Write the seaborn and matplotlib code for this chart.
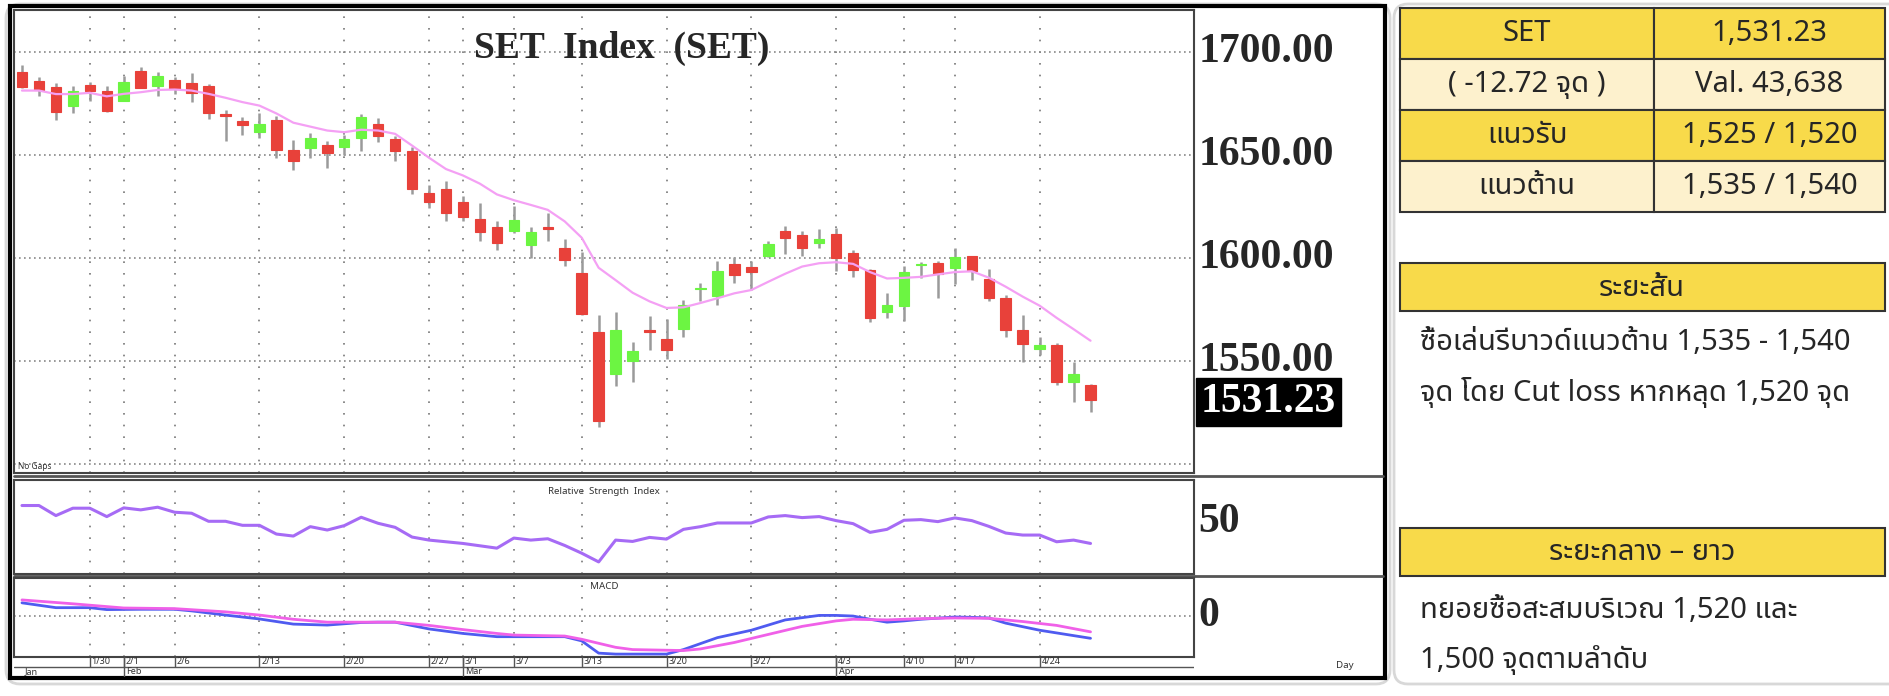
import matplotlib
matplotlib.use("Agg")
import matplotlib.pyplot as plt
import matplotlib.transforms as mtrans
from matplotlib.patches import Rectangle, FancyBboxPatch
import seaborn as sns
import pandas as pd
import numpy as np

sns.set_theme(style="white")
plt.rcParams['font.family'] = ['Noto Sans Thai', 'Noto Sans', 'DejaVu Sans']

# ---------------- data ----------------
opens  = [1690.6,1685.9,1682.9,1673.8,1684.0,1681.3,1676.4,1690.8,1683.7,1686.7,1685.1,1683.5,1669.8,1666.7,1661.1,1667.1,
          1652.4,1653.7,1654.8,1654.1,1658.4,1665.1,1658.1,1651.9,1631.9,1633.5,1627.3,1619.2,1615.3,1613.2,1606.3,1615.2,
          1605.2,1592.9,1564.0,1544.0,1550.0,1565.2,1560.8,1565.9,1585.0,1581.8,1597.1,1596.0,1601.3,1613.2,1611.3,1607.6,
          1611.6,1602.5,1594.1,1573.8,1577.0,1596.8,1597.6,1595.4,1601.0,1589.8,1580.5,1565.2,1556.0,1557.9,1540.0,1538.5]
closes = [1683.0,1681.7,1671.0,1681.1,1681.0,1671.3,1685.7,1682.5,1688.4,1682.1,1680.2,1670.3,1669.2,1664.5,1665.1,1652.5,
          1647.3,1658.4,1651.3,1657.8,1668.4,1659.5,1652.2,1633.8,1627.2,1622.2,1619.9,1612.7,1607.2,1618.4,1612.7,1614.0,
          1599.4,1573.0,1521.0,1565.0,1555.0,1564.0,1555.3,1577.5,1585.5,1593.7,1591.7,1593.3,1607.1,1610.0,1605.2,1609.2,
          1600.0,1594.1,1571.1,1577.1,1593.3,1597.2,1592.2,1600.5,1593.7,1580.6,1565.1,1558.4,1557.9,1540.0,1543.95,1531.23]
highs  = [1693.8,1687.8,1684.9,1683.8,1685.4,1683.8,1688.3,1693.0,1690.5,1687.8,1689.7,1684.6,1671.9,1668.7,1670.3,1669.1,
          1657.6,1660.8,1656.8,1660.0,1670.0,1668.0,1659.2,1654.1,1635.4,1637.3,1630.3,1626.7,1617.9,1625.4,1615.4,1622.2,
          1609.2,1602.9,1572.7,1573.8,1559.2,1571.9,1570.3,1579.8,1588.1,1598.9,1600.5,1598.9,1608.4,1615.6,1613.2,1614.3,
          1614.8,1604.0,1594.9,1583.3,1596.5,1598.1,1598.9,1605.2,1601.3,1594.9,1582.2,1572.4,1561.6,1559.0,1549.7,1539.0]
lows   = [1682.5,1678.6,1667.1,1670.6,1676.4,1671.1,1676.4,1682.5,1678.6,1679.5,1675.9,1667.5,1656.8,1660.0,1658.4,1648.9,
          1643.0,1648.9,1643.8,1650.2,1652.1,1656.5,1647.3,1631.4,1624.3,1617.9,1617.9,1608.4,1604.0,1612.4,1600.0,1608.4,
          1596.5,1572.5,1518.0,1538.0,1540.0,1555.3,1551.0,1561.6,1579.1,1577.5,1587.8,1584.6,1600.5,1602.1,1601.0,1605.2,
          1593.7,1591.0,1569.2,1571.1,1569.5,1590.2,1580.6,1587.5,1589.4,1579.1,1561.9,1549.7,1552.9,1538.5,1530.4,1525.5]
ma_line = [1681.4,1681.4,1679.7,1679.7,1680.3,1678.6,1679.8,1680.6,1681.7,1681.9,1681.4,1679.8,1677.9,1675.8,1674.1,1670.3,
           1665.8,1663.9,1662.0,1661.2,1662.4,1662.0,1660.4,1654.7,1648.8,1643.3,1640.2,1636.2,1631.0,1628.2,1625.9,1623.5,
           1617.9,1610.0,1595.4,1589.4,1583.3,1579.1,1575.9,1576.2,1578.3,1580.6,1583.0,1584.6,1588.6,1592.5,1596.0,1597.6,
           1598.1,1597.3,1593.3,1590.2,1590.5,1591.0,1592.2,1593.3,1593.7,1590.6,1586.2,1581.4,1577.0,1571.1,1565.6,1560.0]
rsi = [62,62,54.5,60,60,53.75,60.25,58.75,60.75,57,56.25,50.25,50.25,47.25,47.25,40.75,39.25,46.25,43.75,47,53.25,48.75,
       45.75,38.5,36.25,35,33.75,32,30.25,37.75,36.25,37.25,32.25,26.5,20,36.25,35.25,38.25,37,44.25,46.25,49,49,49,53.5,
       54.5,53,53.75,50.75,48.5,42,44.25,51,51.5,50,52.75,50.75,46.5,41.5,40,40,35,36.25,33.75]
macd_idx = [0,2,4,5,7,9,10,12,14,16,18,20,21,22,24,26,28,29,31,32,33,34,35,37,38,39,41,43,45,47,48,49,50,51,52,53,55,56,57,58,60,63]
macd_val = [10.25,6.5,6.5,5,5.25,5.25,4,0.75,-2.25,-6.25,-7,-5,-4.75,-4.75,-10,-13.5,-16,-16,-16,-16,-19.25,-28.75,-29.5,
            -29.5,-29.5,-26,-16.75,-11,-3,0.5,0.5,0,-2.5,-4.75,-3.75,-2.5,-0.75,-1,-1.5,-5.5,-11,-17.25]
sig_idx = [0,3,6,9,12,14,16,18,22,24,26,28,29,32,33,35,36,38,39,40,42,44,46,48,49,51,53,55,57,59,61,63]
sig_val = [12.5,9.5,6.25,5.75,3.25,0.75,-2.5,-4.75,-4.75,-7.25,-10.5,-13.5,-14.75,-15.5,-18,-24.25,-26,-26.5,-26.75,-25.5,
           -20.5,-14.25,-8,-3.75,-2.5,-3,-2,-1.5,-1.75,-4.25,-7.25,-12.25]
date_idx = [4,6,9,14,19,24,26,29,33,38,43,48,52,55,60]
date_lbl = ["1/30","2/1","2/6","2/13","2/20","2/27","3/1","3/7","3/13","3/20","3/27","4/3","4/10","4/17","4/24"]
month_idx = [0,6,26,48]
month_lbl = ["Jan","Feb","Mar","Apr"]
price_ticks = [1700,1650,1600,1550]
last_price = 1531.23
table_rows = [("SET","1,531.23"),("( -12.72 จุด )","Val. 43,638"),("แนวรับ","1,525 / 1,520"),("แนวต้าน","1,535 / 1,540")]
short_title = "ระยะสั้น"
short_text = ["ซื้อเล่นรีบาวด์แนวต้าน 1,535 - 1,540", "จุด โดย Cut loss หากหลุด 1,520 จุด"]
mid_title = "ระยะกลาง – ยาว"
mid_text = ["ทยอยซื้อสะสมบริเวณ 1,520 และ", "1,500 จุดตามลำดับ"]

# ---------------- layout ----------------
W, H = 1890, 696
fig = plt.figure(figsize=(W/100, H/100), dpi=100)
fig.patch.set_facecolor("white")

def box(x0, y0, x1, y1):
    return [x0/W, 1-y1/H, (x1-x0)/W, (y1-y0)/H]

XL = (-0.47, 69.1)
idx = np.arange(len(opens))
serif = "Liberation Serif"

bg = fig.add_axes([0,0,1,1]); bg.set_xlim(0,W); bg.set_ylim(H,0); bg.axis("off")
bg.add_patch(FancyBboxPatch((6,4),1384,680,boxstyle="round,pad=0,rounding_size=14",fc="white",ec="#d8d8d8",lw=2))
bg.add_patch(FancyBboxPatch((1394,4),1492,680,boxstyle="round,pad=0,rounding_size=14",fc="white",ec="#d8d8d8",lw=2))

def style_panel(ax, ylim):
    ax.set_xlim(*XL); ax.set_ylim(*ylim)
    ax.set_xticks([]); ax.set_yticks([])
    for s in ax.spines.values():
        s.set_color("#444"); s.set_linewidth(1.5)
    for d in date_idx:
        ax.axvline(d, color="#777", lw=1.2, ls=(0,(1,6)), zorder=0)

# main panel
ax = fig.add_axes(box(14, 10, 1194, 473))
style_panel(ax, (1495.8, 1720.5))
for p in price_ticks + [1500]:
    ax.axhline(p, color="#888", lw=1.2, ls=(0,(1,2)), zorder=0)
cols = ["#6cf542" if c >= o else "#e8413a" for o, c in zip(opens, closes)]
ax.vlines(idx, lows, highs, color="#9a9a9a", lw=1.8, zorder=2)
bot = np.minimum(opens, closes); hgt = np.maximum(np.abs(np.array(closes)-np.array(opens)), 0.6)
ax.bar(idx, hgt, bottom=bot, width=0.62, color=cols, edgecolor=cols, lw=0.8, zorder=3)
sns.lineplot(x=idx, y=ma_line, ax=ax, color="#f4a0f4", lw=1.6, zorder=4)
ax.text(0.515, 0.955, "SET  Index  (SET)", transform=ax.transAxes, ha="center", va="top",
        fontsize=27, fontweight="bold", family=serif)
ax.text(0.003, 0.005, "No Gaps", transform=ax.transAxes, fontsize=6, color="#333", va="bottom")

# rsi panel
axr = fig.add_axes(box(14, 480, 1194, 574))
style_panel(axr, (11, 81))
sns.lineplot(x=idx, y=rsi, ax=axr, color="#a66bf5", lw=2.2)
axr.text(0.5, 0.93, "Relative  Strength  Index", transform=axr.transAxes, ha="center", va="top", fontsize=7, color="#333")

# macd panel
axm = fig.add_axes(box(14, 578, 1194, 657))
style_panel(axm, (-31.75, 29.5))
axm.axhline(0, color="#888", lw=1.2, ls=(0,(1,2)), zorder=0)
sns.lineplot(x=macd_idx, y=macd_val, ax=axm, color="#4f5bf0", lw=2)
sns.lineplot(x=sig_idx, y=sig_val, ax=axm, color="#f060e8", lw=2)
axm.text(0.5, 0.95, "MACD", transform=axm.transAxes, ha="center", va="top", fontsize=7, color="#333")

# date axis
axd = fig.add_axes(box(14, 657, 1194, 677))
axd.set_xlim(*XL); axd.set_ylim(0, 2); axd.axis("off")
axd.axhline(1, color="#555", lw=1)
for d, l in zip(date_idx, date_lbl):
    axd.vlines(d, 1, 2, color="#555", lw=1)
    axd.text(d+0.1, 1.5, l, fontsize=6.5, va="center", ha="left", color="#333")
for d, l in zip(month_idx, month_lbl):
    if d: axd.vlines(d, 0, 2, color="#555", lw=1)
    axd.text(d+0.15, 0.5, l, fontsize=6.5, va="center", ha="left", color="#333")

# right price-label column
trm = mtrans.blended_transform_factory(ax.transAxes, ax.transData)
for p in price_ticks:
    ax.text(1.004, p, f"{p:.2f}", transform=trm, fontsize=30, fontweight="bold", family=serif, va="center", ha="left",
            clip_on=False)
ax.text(1.006, last_price-1, f"{last_price:.2f}", transform=trm, fontsize=30, fontweight="bold", family=serif,
        va="center", ha="left", color="white", clip_on=False,
        bbox=dict(boxstyle="square,pad=0.12", fc="black", ec="black"))
axr.text(1.004, 50, "50", transform=mtrans.blended_transform_factory(axr.transAxes, axr.transData),
         fontsize=30, fontweight="bold", family=serif, va="center", ha="left", clip_on=False)
axm.text(1.004, 0, "0", transform=mtrans.blended_transform_factory(axm.transAxes, axm.transData),
         fontsize=30, fontweight="bold", family=serif, va="center", ha="left", clip_on=False)
bg.text(1345, 665, "Day", fontsize=7, color="#333", ha="center", va="center")

bg.add_patch(Rectangle((10, 6), 1375, 672, fill=False, ec="black", lw=3, zorder=10))
for y in (476, 576):
    bg.plot([14, 1383], [y, y], color="#555", lw=2, zorder=10)

# ---------------- right side table ----------------
TFONT = ['Noto Sans Thai', 'Noto Sans', 'DejaVu Sans']
x0, xm, x1 = 1400, 1654, 1885
ys = [8, 59, 110, 161, 212]
for r, (a, b) in enumerate(table_rows):
    fc = "#f8da4a" if r % 2 == 0 else "#fdf1cd"
    for (xa, xb, t) in [(x0, xm, a), (xm, x1, b)]:
        bg.add_patch(Rectangle((xa, ys[r]), xb-xa, ys[r+1]-ys[r], fc=fc, ec="#333", lw=1.5, zorder=5))
        bg.text((xa+xb)/2, (ys[r]+ys[r+1])/2, t, ha="center", va="center", fontsize=21, family=TFONT,
                fontweight="medium", zorder=6)

bg.add_patch(Rectangle((1400, 263), 485, 48, fc="#f8da4a", ec="#333", lw=1.5))
bg.text(1642, 288, short_title, ha="center", va="center", fontsize=21, fontweight="bold", family=TFONT)
for i, t in enumerate(short_text):
    bg.text(1420, 343+i*50, t, ha="left", va="center", fontsize=21, fontweight="medium", family=TFONT)

bg.add_patch(Rectangle((1400, 528), 485, 48, fc="#f8da4a", ec="#333", lw=1.5))
bg.text(1642, 553, mid_title, ha="center", va="center", fontsize=21, fontweight="bold", family=TFONT)
for i, t in enumerate(mid_text):
    bg.text(1420, 610+i*50, t, ha="left", va="center", fontsize=21, fontweight="medium", family=TFONT)

fig.savefig("out.png", dpi=100)
